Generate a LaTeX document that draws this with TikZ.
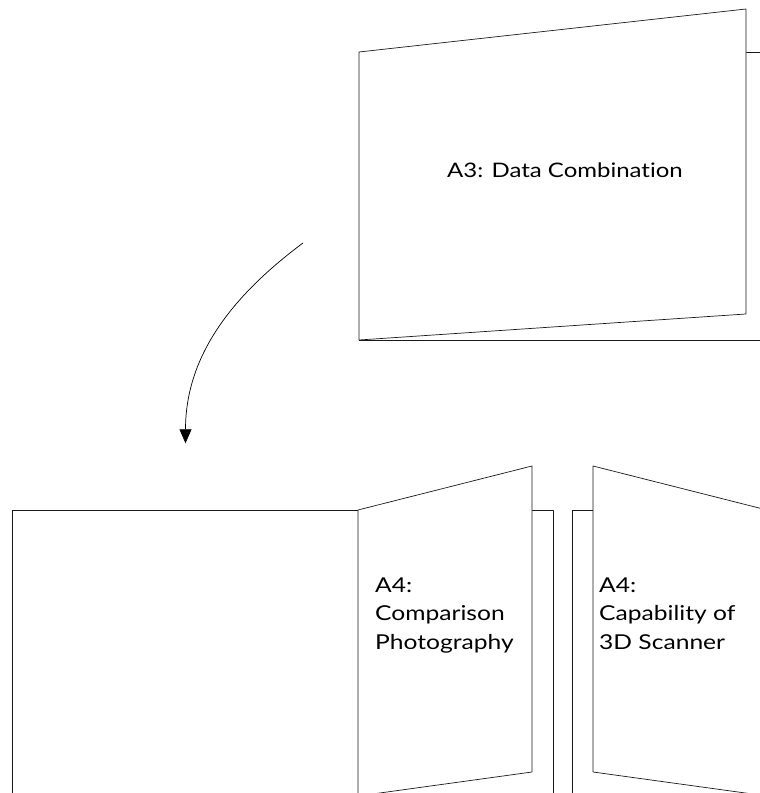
\documentclass[tikz,border=0pt]{standalone}
\usepackage{fontspec}
\setmainfont{Lato}[Ligatures=NoCommon,FakeStretch=1.2]
\usetikzlibrary{arrows.meta,calc}
\usepackage{tkz-euclide}
\definecolor{PageClr}{rgb}{0.1,0.1,0.1}

\begin{document}
\begin{tikzpicture}[x=1pt,y=1pt]
\tkzSetUpLine[line width=.7pt,color=PageClr]
\useasboundingbox (0,0) rectangle (760,793);
\clip (0,0) rectangle (760,793);

% A3 sheet
\tkzDefPoints{359/741/A,746/784/B,746/479/C,359/453/D,820/741/E,820/453/F}
% A4 left
\tkzDefPoints{12/-10/G,12/283/H,358/283/I,358/-10/J,553/283/K,553/-10/L}
\tkzDefPoints{532/327/M,532/21/N,358/-3/O}
% A4 right
\tkzDefPoints{572/-10/P,572/283/Q,767/283/R,767/-10/S}
\tkzDefPoints{593/327/T,593/21/U,767/-3/V}

\tkzDrawPolygon(D,A,E,F)
\tkzFillPolygon[fill=white](A,B,C,D)
\tkzDrawPolygon(A,B,C,D)

\tkzDrawPolygon(G,H,I,J)
\tkzDrawPolygon(J,I,K,L)
\tkzFillPolygon[fill=white](I,M,N,O)
\tkzDrawPolygon(I,M,N,O)

\tkzDrawPolygon(P,Q,R,S)
\tkzFillPolygon[fill=white](T,R,V,U)
\tkzDrawPolygon(T,R,V,U)

\node[anchor=base,font=\fontsize{20}{24}\selectfont] (dc) at (565,615) {A3: Data Combination};
\node[anchor=base west,align=left,inner sep=0,font=\fontsize{20.5}{28.5}\selectfont] (cp) at (375,143.7) {A4:\\Comparison\\Photography};
\node[anchor=base west,align=left,inner sep=0,font=\fontsize{20.5}{28.5}\selectfont] (sc) at (599,143.7) {A4:\\Capability of\\3D Scanner};

\coordinate (s) at (303,550);
\coordinate (e) at (185.5,349.7);
\draw[line width=.7pt,-{Triangle[width=12pt,length=14pt]}] (s) .. controls (240,503) and (185.5,443) .. (e);

\end{tikzpicture}
\end{document}
